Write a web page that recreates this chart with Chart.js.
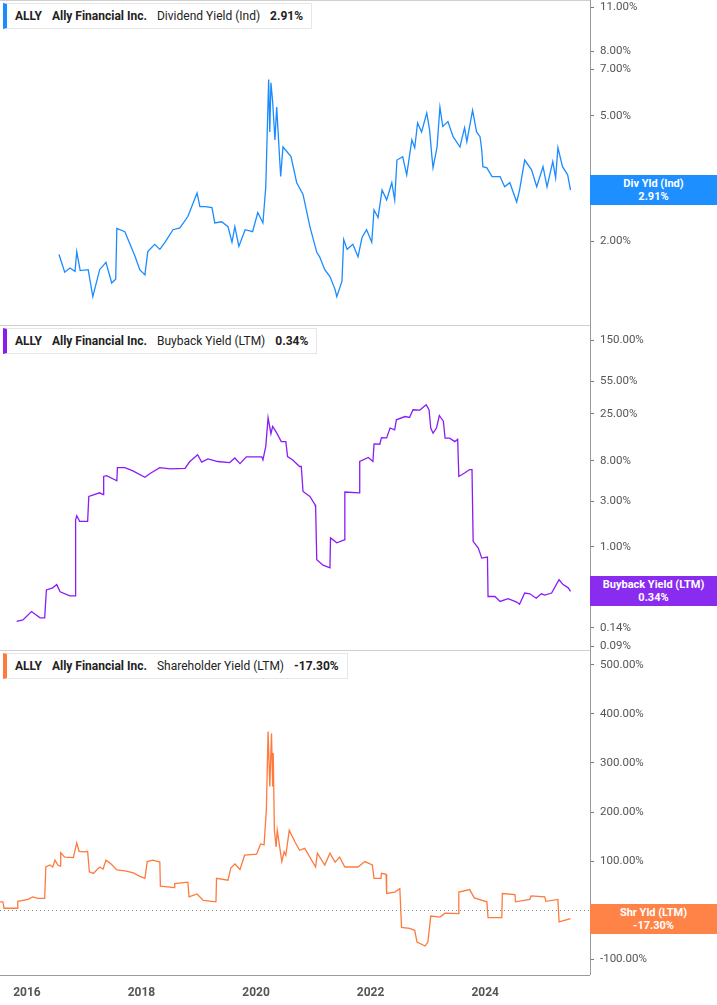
<!DOCTYPE html>
<html><head><meta charset="utf-8">
<script src="https://cdn.jsdelivr.net/npm/chart.js@4.4.1/dist/chart.umd.min.js"></script>
<style>
html,body{margin:0;padding:0;background:#fff;width:717px;height:1005px;overflow:hidden;font-family:Roboto,"Open Sans",sans-serif;}
.panel{position:absolute;left:0;width:717px;}
.leg{position:absolute;left:3px;top:3px;height:26px;background:#fff;border:1px solid #e6e6e6;border-left:4px solid;box-sizing:border-box;font-size:12px;line-height:24px;color:#222;white-space:nowrap;padding:0 8px 0 8px;z-index:3}
.leg b{font-weight:700}
.leg span{margin-right:10px}
.tag{position:absolute;left:590px;width:127px;height:30px;color:#fff;font-weight:700;font-size:11px;line-height:13px;text-align:center;padding-top:2px;box-sizing:border-box;z-index:3}
</style></head><body>
<div class="panel" style="top:0;height:325px"><canvas id="c1"></canvas>
 <div class="leg" style="border-left-color:#1a8cff"><span><b>ALLY</b></span><span><b>Ally Financial Inc.</b></span><span>Dividend Yield (Ind)</span><b>2.91%</b></div>
 <div class="tag" id="t1" style="background:#1e8fff">Div Yld (Ind)<br>2.91%</div></div>
<div class="panel" style="top:325px;height:325px"><canvas id="c2"></canvas>
 <div class="leg" style="border-left-color:#8a1cf0"><span><b>ALLY</b></span><span><b>Ally Financial Inc.</b></span><span>Buyback Yield (LTM)</span><b>0.34%</b></div>
 <div class="tag" id="t2" style="background:#8a2cf0">Buyback Yield (LTM)<br>0.34%</div></div>
<div class="panel" style="top:650px;height:355px"><canvas id="c3"></canvas>
 <div class="leg" style="border-left-color:#ff7a3d"><span><b>ALLY</b></span><span><b>Ally Financial Inc.</b></span><span>Shareholder Yield (LTM)</span><b>-17.30%</b></div>
 <div class="tag" id="t3" style="background:#ff8347">Shr Yld (LTM)<br>-17.30%</div></div>
<script>
const xTickYears=[2016,2018,2020,2022,2024];
const divTicks=[2,3,5,7,8,11];
const bbTicks=[0.09,0.14,1,3,8,25,55,150];
const shrTicks=[-100,0,100,200,300,400,500];

const divYears=[2016.56,2016.66,2016.75,2016.84,2016.87,2016.93,2017.07,2017.15,2017.27,2017.38,2017.48,2017.55,2017.57,2017.71,2017.80,2017.89,2017.97,2018.06,2018.11,2018.23,2018.32,2018.41,2018.55,2018.67,2018.81,2018.97,2019.02,2019.11,2019.23,2019.28,2019.40,2019.51,2019.58,2019.63,2019.70,2019.81,2019.94,2020.03,2020.12,2020.17,2020.22,2020.24,2020.26,2020.29,2020.33,2020.36,2020.43,2020.47,2020.61,2020.71,2020.82,2020.94,2021.06,2021.11,2021.20,2021.29,2021.38,2021.41,2021.50,2021.53,2021.59,2021.69,2021.78,2021.85,2021.93,2022.02,2022.06,2022.13,2022.20,2022.28,2022.37,2022.42,2022.46,2022.56,2022.63,2022.72,2022.77,2022.82,2022.89,2022.98,2023.03,2023.07,2023.09,2023.16,2023.21,2023.26,2023.35,2023.44,2023.56,2023.64,2023.68,2023.78,2023.85,2023.91,2023.94,2023.96,2024.03,2024.12,2024.26,2024.34,2024.43,2024.55,2024.60,2024.69,2024.81,2024.90,2025.01,2025.08,2025.18,2025.23,2025.27,2025.35,2025.44,2025.49];
const divValues=[1.82,1.60,1.65,1.61,1.86,1.62,1.63,1.34,1.63,1.72,1.48,1.52,2.20,2.15,1.96,1.79,1.63,1.57,1.86,1.96,1.89,1.99,2.18,2.21,2.40,2.85,2.58,2.58,2.56,2.29,2.31,2.23,1.99,2.23,1.93,2.18,2.15,2.47,2.29,2.98,6.50,4.44,6.35,5.53,4.19,5.32,3.21,3.98,3.71,3.07,2.82,2.23,1.85,1.79,1.63,1.55,1.41,1.34,1.50,2.03,1.89,1.96,1.79,2.06,2.18,1.99,2.52,2.38,2.91,2.71,3.07,2.71,3.62,3.71,3.25,4.19,3.96,4.74,4.44,5.10,4.51,3.71,3.42,3.98,5.32,4.62,4.79,4.29,3.98,4.58,4.14,5.20,4.44,4.29,3.90,3.45,3.42,3.21,3.21,2.98,3.07,2.67,2.91,3.62,3.37,2.98,3.45,2.98,3.58,3.18,3.96,3.45,3.25,2.91];

const bbYears=[2015.82,2015.93,2016.08,2016.23,2016.31,2016.34,2016.45,2016.52,2016.58,2016.75,2016.84,2016.85,2016.87,2016.92,2017.06,2017.08,2017.27,2017.33,2017.34,2017.39,2017.57,2017.58,2017.71,2017.85,2018.06,2018.15,2018.32,2018.50,2018.76,2018.84,2018.98,2019.05,2019.16,2019.33,2019.54,2019.63,2019.72,2019.83,2020.10,2020.12,2020.17,2020.21,2020.26,2020.29,2020.36,2020.44,2020.52,2020.55,2020.64,2020.76,2020.79,2020.82,2020.94,2021.03,2021.04,2021.06,2021.17,2021.29,2021.30,2021.41,2021.54,2021.55,2021.80,2021.81,2021.96,2022.04,2022.06,2022.16,2022.19,2022.28,2022.34,2022.42,2022.45,2022.60,2022.68,2022.74,2022.86,2022.97,2023.02,2023.05,2023.09,2023.15,2023.20,2023.27,2023.30,2023.38,2023.47,2023.52,2023.54,2023.64,2023.73,2023.77,2023.79,2023.88,2023.94,2024.04,2024.05,2024.17,2024.26,2024.40,2024.55,2024.60,2024.69,2024.78,2024.89,2024.98,2025.04,2025.16,2025.29,2025.36,2025.45,2025.49];
const bbValues=[0.164,0.17,0.208,0.179,0.179,0.352,0.37,0.40,0.336,0.305,0.305,1.92,2.12,1.85,1.85,3.39,3.70,3.55,5.5,5.6,4.95,6.8,6.8,6.3,5.4,5.9,6.8,6.6,6.7,7.85,9.3,7.8,8.4,7.9,7.7,8.6,7.5,8.85,8.85,8.2,11.4,22.8,15.5,18.5,15.8,12.8,12.8,8.9,8.2,7.0,7.0,3.82,3.39,2.77,2.6,0.73,0.64,0.60,1.24,1.10,1.18,3.77,3.7,7.9,8.7,7.9,12.1,12.0,14.1,14.0,17.8,17.0,21.7,23.5,23.0,27.7,27.5,31.2,27.7,17.8,15.7,17.8,24.1,21.0,13.9,13.9,12.8,13.5,5.5,5.97,6.5,6.5,1.14,0.97,0.76,0.78,0.30,0.30,0.266,0.285,0.262,0.249,0.326,0.32,0.288,0.32,0.31,0.326,0.45,0.40,0.37,0.34];

const shrYears=[2015.53,2015.58,2015.60,2015.83,2015.84,2016.02,2016.10,2016.19,2016.31,2016.33,2016.40,2016.45,2016.49,2016.54,2016.58,2016.59,2016.66,2016.81,2016.87,2016.91,2017.01,2017.06,2017.09,2017.16,2017.27,2017.33,2017.38,2017.47,2017.57,2017.71,2017.86,2017.97,2018.06,2018.10,2018.20,2018.32,2018.33,2018.50,2018.57,2018.58,2018.81,2018.83,2018.97,2019.08,2019.30,2019.31,2019.51,2019.56,2019.63,2019.72,2019.80,2020.01,2020.08,2020.14,2020.18,2020.21,2020.24,2020.27,2020.29,2020.30,2020.32,2020.35,2020.37,2020.45,2020.49,2020.52,2020.58,2020.68,2020.76,2020.85,2021.04,2021.07,2021.20,2021.29,2021.38,2021.46,2021.55,2021.78,2021.90,2022.03,2022.06,2022.18,2022.19,2022.27,2022.28,2022.42,2022.51,2022.54,2022.68,2022.77,2022.81,2022.95,2023.00,2023.05,2023.21,2023.30,2023.53,2023.54,2023.73,2023.81,2024.03,2024.05,2024.29,2024.30,2024.52,2024.53,2024.78,2024.80,2025.04,2025.06,2025.27,2025.29,2025.49];
const shrValues=[17,17,4,4,18,22,27,24,24,88,92,88,102,92,90,117,108,107,137,120,119,120,78,75,88,84,102,94,82,80,76,69,65,99,102,98,49,47,46,54,57,27,33,20,17,65,61,86,94,83,112,114,135,133,204,364,252,360,252,320,163,129,163,99,119,112,163,139,122,126,88,116,92,116,98,108,88,88,99,92,65,65,75,73,34,37,44,-35,-37,-41,-65,-73,-65,-12,-14,-6,-7,37,42,25,17,-15,-15,34,32,17,22,29,27,18,22,-24,-17.3];

const XMIN=2015.53, XMAX=2025.83, AXW=127;
const pts=(xs,ys)=>xs.map((x,i)=>({x,y:ys[i]}));
const pct=v=>Number(v).toFixed(2)+'%';

const decor={id:'decor',afterDraw(ch,a,o){
  const c=ch.ctx,ca=ch.chartArea;c.save();
  c.strokeStyle='#cfcfcf';c.lineWidth=1;
  c.beginPath();c.moveTo(0,0.5);c.lineTo(ca.right,0.5);c.stroke();
  c.strokeStyle='#9a9a9a';c.beginPath();c.moveTo(ca.right+0.5,0);c.lineTo(ca.right+0.5,ca.bottom);c.stroke();
  if(o.zero){const y=Math.round(ch.scales.y.getPixelForValue(0))+0.5;
    c.strokeStyle='#888';c.setLineDash([1,3]);c.beginPath();c.moveTo(0,y);c.lineTo(ca.right,y);c.stroke();c.setLineDash([]);
    c.strokeStyle='#9a9a9a';c.beginPath();c.moveTo(0,ca.bottom+0.5);c.lineTo(ca.right,ca.bottom+0.5);c.stroke();}
  c.restore();
  if(o.tag){const v=o.last;const y=ch.scales.y.getPixelForValue(v);document.getElementById(o.tag).style.top=(y-15)+'px';}
}};

function mk(id,h,data,color,yType,yMin,yMax,ticks,showX,extra){
  const cv=document.getElementById(id);cv.width=717;cv.height=h;cv.style.width='717px';cv.style.height=h+'px';
  return new Chart(cv,{type:'line',data:{datasets:[{data,borderColor:color,borderWidth:1.3,pointRadius:0,tension:0,fill:false}]},
   options:{responsive:false,animation:false,devicePixelRatio:1,layout:{padding:0,autoPadding:false},
    plugins:{legend:{display:false},tooltip:{enabled:false},decor:extra},
    scales:{
     x:{type:'linear',min:XMIN,max:XMAX,display:showX,border:{display:false},grid:{display:false,drawTicks:false},
        afterFit:s=>{s.height=showX?30:0;s.paddingLeft=0;s.paddingRight=0},afterBuildTicks:s=>{s.ticks=xTickYears.map(v=>({value:v}))},
        ticks:{color:'#555',font:{family:'Roboto',size:12,weight:'bold'},padding:11,callback:v=>String(v),maxRotation:0}},
     y:{type:yType,position:'right',min:yMin,max:yMax,border:{display:false},
        grid:{drawOnChartArea:false,drawTicks:true,tickLength:4,color:'#777'},
        afterFit:s=>{s.width=AXW;s.paddingTop=0;s.paddingBottom=0},afterBuildTicks:s=>{s.ticks=ticks.map(v=>({value:v}))},
        ticks:{color:'#555',font:{family:'Roboto',size:11.5},padding:6,callback:v=>pct(v),autoSkip:false}}}},
   plugins:[decor]});
}
mk('c1',325,pts(divYears,divValues),'#1a8cff','logarithmic',1.09,11.6,divTicks,false,{tag:'t1',last:2.91});
mk('c2',325,pts(bbYears,bbValues),'#8a1cf5','logarithmic',0.082,216,bbTicks,false,{tag:'t2',last:0.34});
mk('c3',355,pts(shrYears,shrValues),'#ff7a3d','linear',-132,530,shrTicks,true,{tag:'t3',last:-17.3,zero:true});
</script></body></html>
